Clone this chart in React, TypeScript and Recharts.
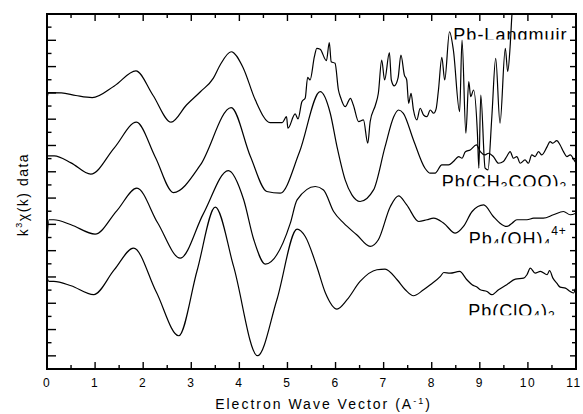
import { LineChart, Line, XAxis, YAxis, ReferenceDot } from "recharts";

const FONT = '"Liberation Sans", Arial, Helvetica, sans-serif';

// k (A^-1) against k^3 chi(k); curves are stacked, y is in tick units of the frame
const langmuir: [number, number][] = [
  [0, 20.5], [0.03, 21.02], [0.3, 21.0], [0.6, 20.8], [0.94, 20.64], [1.4, 21.53], [1.85, 22.67],
  [2.2, 20.84], [2.58, 18.77], [2.9, 20.08], [3.19, 21.09], [3.46, 22.12], [3.6, 23.12], [3.83, 24.13],
  [4.08, 22.9], [4.33, 20.47], [4.64, 18.74], [4.89, 18.74], [4.98, 19.19], [5.01, 18.31], [5.16, 19.4],
  [5.22, 19.02], [5.3, 20.33], [5.37, 20.62], [5.42, 22.19], [5.47, 21.98], [5.56, 23.75], [5.61, 24.39],
  [5.68, 24.32], [5.81, 23.45], [5.87, 24.82], [5.91, 23.37], [5.99, 23.25], [6.06, 21.22], [6.1, 20.71],
  [6.2, 19.95], [6.31, 20.59], [6.37, 20.08], [6.48, 18.81], [6.58, 18.94], [6.67, 17.17], [6.72, 18.81],
  [6.83, 20.08], [6.89, 20.97], [6.96, 23.5], [7.02, 21.98], [7.12, 24.06], [7.16, 21.98], [7.22, 21.53],
  [7.3, 22.14], [7.36, 23.88], [7.43, 22.37], [7.48, 21.98], [7.52, 20.21], [7.57, 20.97], [7.62, 19.7],
  [7.69, 18.94], [7.76, 19.83], [7.83, 19.32], [7.9, 19.19], [7.97, 19.7], [8.04, 19.45], [8.09, 19.76],
  [8.14, 21.22], [8.21, 23.71], [8.27, 21.98], [8.37, 25.65], [8.45, 24.26], [8.58, 19.57], [8.63, 25.02],
  [8.71, 17.93], [8.77, 21.85], [8.81, 20.71], [8.87, 21.22], [8.95, 17.93], [8.98, 15.27], [9.02, 20.84],
  [9.11, 15.27], [9.17, 15.14], [9.25, 19.19], [9.33, 23.63], [9.42, 18.69], [9.53, 24.39], [9.58, 22.61],
  [9.63, 24.51], [9.67, 27.05], [9.7, 28.1],
];

const acetate: [number, number][] = [
  [0, 16.21], [0.15, 16.21], [0.5, 15.68], [0.91, 14.82], [1.4, 16.82], [1.86, 18.77], [2.25, 16.13],
  [2.63, 13.42], [3.19, 15.52], [3.83, 19.88], [4.23, 16.16], [4.57, 13.5], [4.85, 13.37], [5.25, 16.5],
  [5.68, 21.09], [5.89, 19.45], [6.03, 16.91], [6.2, 14.38], [6.34, 13.24], [6.51, 12.74], [6.79, 13.62],
  [7.03, 16.91], [7.21, 19.19], [7.31, 19.7], [7.41, 19.45], [7.62, 17.42], [7.86, 15.27], [7.97, 14.89],
  [8.07, 14.89], [8.21, 15.52], [8.35, 15.52], [8.45, 15.78], [8.56, 16.16], [8.63, 16.03], [8.7, 16.53],
  [8.8, 16.66], [8.93, 17.04], [9.01, 16.53], [9.11, 16.28], [9.18, 16.41], [9.28, 16.16], [9.39, 15.65],
  [9.49, 15.78], [9.56, 16.16], [9.63, 16.53], [9.7, 16.03], [9.77, 16.16], [9.84, 15.65], [9.94, 15.9],
  [10.01, 15.65], [10.08, 16.28], [10.15, 16.16], [10.22, 16.53], [10.29, 16.28], [10.4, 16.91],
  [10.46, 17.29], [10.52, 17.17], [10.6, 17.37], [10.67, 17.04], [10.74, 16.53], [10.81, 16.16],
  [10.88, 16.28], [10.98, 15.78], [11, 15.7],
];

const tetramer: [number, number][] = [
  [0, 9.7], [0.04, 11.35], [0.14, 11.35], [0.5, 10.97], [1.0, 10.26], [1.45, 12.03], [1.87, 13.75],
  [2.3, 11.12], [2.77, 8.43], [3.25, 11.8], [3.77, 15.09], [4.09, 12.87], [4.3, 9.83], [4.54, 7.98],
  [5.06, 11.09], [5.2, 12.86], [5.58, 13.88], [5.75, 13.62], [5.96, 11.98], [6.17, 11.09], [6.44, 10.21],
  [6.72, 9.32], [6.89, 9.83], [7.14, 12.36], [7.31, 13.17], [7.48, 12.48], [7.73, 11.22], [7.9, 11.35],
  [8.04, 11.47], [8.25, 11.09], [8.49, 10.33], [8.66, 10.84], [8.84, 11.98], [9.08, 12.48], [9.28, 11.6],
  [9.42, 11.09], [9.56, 10.84], [9.67, 11.09], [9.77, 11.35], [9.98, 11.35], [10.12, 11.47],
  [10.32, 11.47], [10.53, 11.73], [10.74, 11.98], [10.88, 11.73], [11, 11.85],
];

const perchlorate: [number, number][] = [
  [0, 6.99], [0.04, 6.66], [0.14, 6.66], [0.5, 6.33], [0.97, 5.65], [1.4, 7.55], [1.8, 9.19],
  [2.27, 5.87], [2.74, 2.53], [3.12, 7.47], [3.5, 12.31], [3.88, 7.8], [4.38, 1.01], [4.78, 5.27],
  [5.2, 10.64], [5.37, 10.08], [5.61, 7.8], [5.79, 5.78], [6.03, 4.56], [6.24, 5.27], [6.51, 6.66],
  [6.86, 7.55], [7.03, 7.6], [7.28, 6.79], [7.45, 6.03], [7.62, 5.57], [7.83, 6.03], [7.97, 6.41],
  [8.18, 7.04], [8.25, 7.34], [8.38, 7.29], [8.58, 7.42], [8.73, 6.79], [8.84, 6.41], [8.94, 6.23],
  [9.01, 6.03], [9.15, 5.9], [9.25, 5.65], [9.39, 6.03], [9.56, 6.41], [9.74, 6.84], [9.91, 6.91],
  [9.98, 7.17], [10.05, 7.67], [10.15, 7.29], [10.26, 7.42], [10.4, 7.17], [10.45, 7.49], [10.52, 6.91],
  [10.6, 6.53], [10.67, 6.23], [10.78, 6.15], [10.88, 5.9], [10.95, 5.78], [11, 6.28],
];

const kTicks = [0, 0.5, 1, 1.5, 2, 2.5, 3, 3.5, 4, 4.5, 5, 5.5, 6, 6.5, 7, 7.5, 8, 8.5, 9, 9.5, 10, 10.5, 11];
const yTicks = [0, 1, 2, 3, 4, 5, 6, 7, 8, 9, 10, 11, 12, 13, 14, 15, 16, 17, 18, 19, 20, 21, 22, 23, 24, 25, 26, 27];

// label text pieces: "" normal, "sub" subscript, "sup" superscript
type Seg = [string, "" | "sub" | "sup"];
const curveLabels: { id: string; k: number; y: number; segs: Seg[] }[] = [
  { id: "lb0", k: 8.45, y: 24.95, segs: [["Pb-Langmuir", ""]] },
  { id: "lb1", k: 8.21, y: 13.78, segs: [["Pb(CH", ""], ["3", "sub"], ["COO)", ""], ["2", "sub"]] },
  { id: "lb2", k: 8.77, y: 9.45, segs: [["Pb", ""], ["4", "sub"], ["(OH)", ""], ["4", "sub"], ["4+", "sup"]] },
  { id: "lb3", k: 8.76, y: 3.97, segs: [["Pb(ClO", ""], ["4", "sub"], [")", ""], ["2", "sub"]] },
];

const W = 583;
const H = 414;
const MARGIN = { top: 14, right: 7, bottom: 44, left: 46 };
// axes take 1px each (bottom / left), the rest is the plot box
const PLOT_X = MARGIN.left + 1;
const PLOT_Y = MARGIN.top;
const PLOT_W = W - PLOT_X - MARGIN.right;
const PLOT_H = H - MARGIN.top - MARGIN.bottom - 1;
const K_MAX = 11;
const Y_MAX = 27;

const toRows = (pts: [number, number][]) => pts.map(([k, y]) => ({ k, y }));

function BottomTick({ x, y, payload }: any) {
  const v = payload.value;
  const major = Number.isInteger(v);
  return (
    <g>
      <line x1={x} x2={x} y1={y} y2={y - (major ? 7 : 4)} stroke="#000" strokeWidth={1.4} />
      {major && (
        <text x={v === 11 ? x - 2 : x} y={y + 17.5} textAnchor="middle" fontSize={12} letterSpacing={1.5} fontFamily={FONT} fill="#000">
          {v}
        </text>
      )}
    </g>
  );
}

function LeftTick({ x, y, payload }: any) {
  const major = payload.value % 2 === 1;
  return <line x1={x} x2={x + (major ? 9 : 4.5)} y1={y} y2={y} stroke="#000" strokeWidth={1.4} />;
}

// top and right sides of the frame, drawn on top of the chart
function FrameOverlay() {
  return (
    <svg width={W} height={H} style={{ position: "absolute", left: 0, top: 0, pointerEvents: "none" }}>
      <rect x={PLOT_X} y={PLOT_Y} width={PLOT_W} height={PLOT_H} fill="none" stroke="#000" strokeWidth={2} />
      {kTicks.map((k) => {
        const x = PLOT_X + (k / K_MAX) * PLOT_W;
        return (
          <line key={`t${k}`} x1={x} x2={x} y1={PLOT_Y} y2={PLOT_Y + (Number.isInteger(k) ? 7 : 4)} stroke="#000" strokeWidth={1.4} />
        );
      })}
      {yTicks.map((v) => {
        const y = PLOT_Y + PLOT_H - (v / Y_MAX) * PLOT_H;
        const right = PLOT_X + PLOT_W;
        return <line key={`r${v}`} x1={right} x2={right - (v % 2 === 1 ? 6 : 4)} y1={y} y2={y} stroke="#000" strokeWidth={1.4} />;
      })}
    </svg>
  );
}

function CurveLabel({ cx, cy, id, segs }: any) {
  let shift = 0;
  return (
    <g>
      <defs>
        <clipPath id={id}>
          <rect x={cx - 5} y={cy - 30} width={170} height={28.5} />
        </clipPath>
      </defs>
      <text x={cx} y={cy} fontSize={18} letterSpacing={1} fontFamily={FONT} fill="#000" clipPath={`url(#${id})`}>
        {segs.map(([t, kind]: Seg, i: number) => {
          const target = kind === "sub" ? 3 : kind === "sup" ? -9.5 : 0;
          const dy = target - shift;
          shift = target;
          return (
            <tspan key={i} dy={dy} fontSize={kind ? 12 : 18}>
              {t}
            </tspan>
          );
        })}
      </text>
    </g>
  );
}

const axisLine = { stroke: "#000", strokeWidth: 2 };

export default function App() {
  const series = [langmuir, acetate, tetramer, perchlorate];
  return (
    <div style={{ position: "absolute", left: 0, top: 0, width: W, height: H, background: "#fff" }}>
      <LineChart width={W} height={H} margin={MARGIN}>
        <XAxis
          dataKey="k"
          type="number"
          domain={[0, K_MAX]}
          ticks={kTicks}
          interval={0}
          allowDataOverflow
          height={1}
          tickSize={0}
          tickMargin={0}
          axisLine={axisLine}
          tick={(p: any) => <BottomTick {...p} />}
          label={({ viewBox }: any) => (
            <text
              x={viewBox.x + viewBox.width / 2 + 12}
              y={viewBox.y + 40}
              textAnchor="middle"
              fontSize={14}
              letterSpacing={2}
              fontFamily={FONT}
              fill="#000"
            >
              Electron Wave Vector (A
              <tspan dy={-5} fontSize={9}>
                -1
              </tspan>
              <tspan dy={5}>)</tspan>
            </text>
          )}
        />
        <YAxis
          type="number"
          domain={[0, Y_MAX]}
          ticks={yTicks}
          interval={0}
          allowDataOverflow
          width={1}
          tickSize={0}
          tickMargin={0}
          axisLine={axisLine}
          tick={(p: any) => <LeftTick {...p} />}
          label={({ viewBox }: any) => {
            const cx = viewBox.x - 18;
            const cy = viewBox.y + viewBox.height / 2 + 3;
            return (
              <text
                x={cx}
                y={cy}
                transform={`rotate(-90, ${cx}, ${cy})`}
                textAnchor="middle"
                fontSize={14}
                letterSpacing={1.5}
                fontFamily={FONT}
                fill="#000"
              >
                k
                <tspan dy={-6} fontSize={9}>
                  3
                </tspan>
                <tspan dy={6}>χ(k) data</tspan>
              </text>
            );
          }}
        />
        {series.map((pts, i) => (
          <Line
            key={i}
            data={toRows(pts)}
            dataKey="y"
            type="monotone"
            stroke="#000"
            strokeWidth={1.2}
            dot={false}
            isAnimationActive={false}
          />
        ))}
        {curveLabels.map((l) => (
          <ReferenceDot
            key={l.id}
            x={l.k}
            y={l.y}
            r={0}
            ifOverflow="visible"
            shape={(p: any) => <CurveLabel {...p} id={l.id} segs={l.segs} />}
          />
        ))}
      </LineChart>
      <FrameOverlay />
    </div>
  );
}
